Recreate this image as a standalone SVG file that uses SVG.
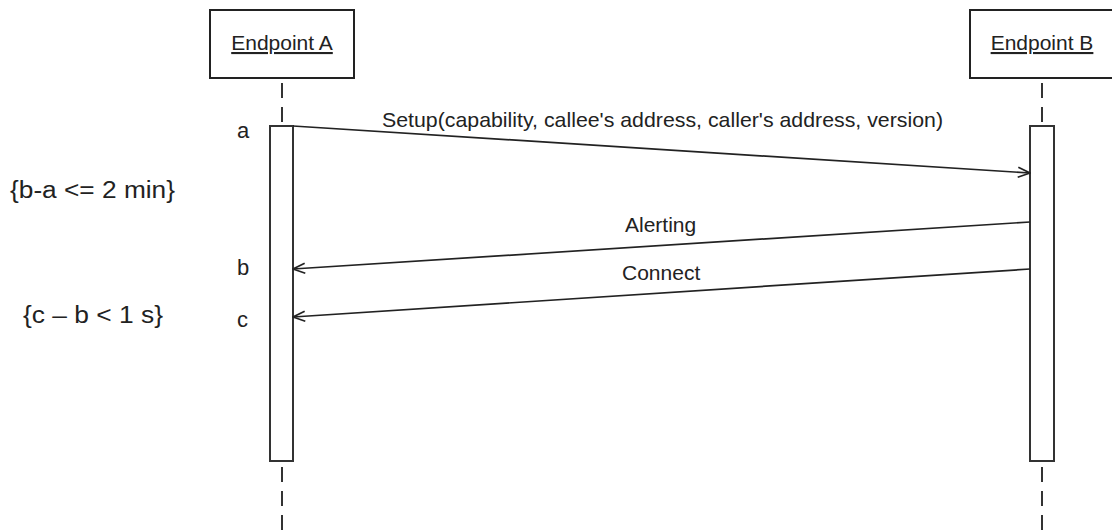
<svg xmlns="http://www.w3.org/2000/svg" width="1112" height="532" viewBox="0 0 1112 532">
<defs>
<style>
text{font-family:"Liberation Sans",Arial,sans-serif;fill:#222;font-size:21px}
.lbl{font-size:22px}
.con{font-size:23px}
.box{fill:#fff;stroke:#222;stroke-width:2}
.bar{fill:#fff;stroke:#333;stroke-width:2}
.life{stroke:#333;stroke-width:2;stroke-dasharray:15 9;fill:none}
.msg{stroke:#222;stroke-width:1.7;fill:none;marker-end:url(#open)}
</style>
<marker id="open" viewBox="0 0 14 12" refX="13" refY="6" markerWidth="14" markerHeight="12" markerUnits="userSpaceOnUse" orient="auto">
<path d="M1,1 L13,6 L1,11" fill="none" stroke="#222" stroke-width="1.7"/>
</marker>
</defs>
<g id="endpointA">
<rect class="box" x="210" y="10" width="144" height="68"/>
<text x="282" y="50" text-anchor="middle" text-decoration="underline">Endpoint A</text>
<line class="life" x1="282" y1="83" x2="282" y2="126"/>
<line class="life" x1="282" y1="467" x2="282" y2="532"/>
<rect class="bar" x="270" y="126" width="23" height="335"/>
</g>
<g id="endpointB">
<rect class="box" x="970" y="10" width="144" height="68"/>
<text x="1042" y="50" text-anchor="middle" text-decoration="underline">Endpoint B</text>
<line class="life" x1="1042" y1="83" x2="1042" y2="126"/>
<line class="life" x1="1042" y1="467" x2="1042" y2="532"/>
<rect class="bar" x="1030" y="126" width="24" height="335"/>
</g>
<g id="connectors">
<line class="msg" x1="293" y1="126" x2="1030" y2="173"/>
<line class="msg" x1="1030" y1="222" x2="293" y2="269"/>
<line class="msg" x1="1030" y1="269" x2="293" y2="317"/>
</g>
<g id="labels">
<text x="382" y="127" textLength="561" lengthAdjust="spacingAndGlyphs">Setup(capability, callee's address, caller's address, version)</text>
<text x="625" y="232">Alerting</text>
<text x="622" y="280">Connect</text>
<text class="lbl" x="237" y="138">a</text>
<text class="lbl" x="237" y="275">b</text>
<text class="lbl" x="237" y="327">c</text>
<text class="con" x="10" y="198" textLength="165" lengthAdjust="spacingAndGlyphs">{b-a &lt;= 2 min}</text>
<text class="con" x="23" y="323" textLength="140" lengthAdjust="spacingAndGlyphs">{c – b &lt; 1 s}</text>
</g>
</svg>
